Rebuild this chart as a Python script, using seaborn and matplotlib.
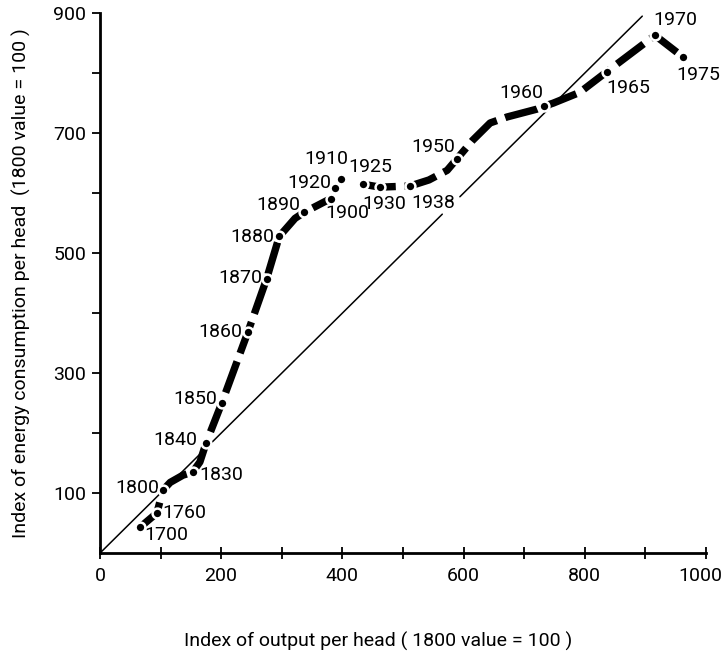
import numpy as np
import pandas as pd
import matplotlib
matplotlib.use("Agg")
import matplotlib.pyplot as plt
import matplotlib.transforms as mtransforms
import seaborn as sns

# path of the curve (year points plus a few bends in between)
path1_x = [66, 94, 104, 116, 137, 153, 165, 175, 201, 244, 275, 296, 322, 337, 381]
path1_y = [43, 67, 105, 118, 130, 135, 152, 183, 250, 368, 457, 528, 558, 568, 591]
path2_x = [434, 462, 512, 543, 573, 589, 615, 644, 672, 721, 733, 748, 792, 836, 916, 962]
path2_y = [615, 610, 612, 622, 638, 657, 688, 717, 727, 740, 745, 750, 768, 802, 863, 827]

years = ["1700", "1760", "1800", "1830", "1840", "1850", "1860", "1870", "1880", "1890",
         "1900", "1910", "1920", "1925", "1930", "1938", "1950", "1960", "1965", "1970", "1975"]
year_x = [66, 94, 104, 153, 175, 201, 244, 275, 296, 337, 381, 398, 388, 434, 462, 512, 589, 733, 836, 916, 962]
year_y = [43, 67, 105, 135, 183, 250, 368, 457, 528, 568, 591, 623, 608, 615, 610, 612, 657, 745, 802, 863, 827]
label_x = [110, 140, 61, 201, 124, 157, 198, 231, 252, 294, 409, 373, 345, 446, 469, 550, 550, 696, 872, 949, 987]
label_y = [30, 67, 108, 130, 188, 257, 368, 458, 527, 580, 567, 657, 617, 643, 582, 583, 677, 767, 775, 888, 797]

# y = x reference line, broken under the 1938 label
diag1 = [0, 565]
diag2 = [594, 895]

sns.set_style("ticks")
plt.rcParams['font.family'] = ['Roboto', 'DejaVu Sans']
for k in ["text.color", "axes.labelcolor", "xtick.color", "ytick.color", "axes.edgecolor"]:
    plt.rcParams[k] = "black"

fig = plt.figure(figsize=(7.24, 6.57), dpi=100)
ax = fig.add_axes([0.138, 0.158, 0.837, 0.822])

sns.lineplot(x=diag1, y=diag1, ax=ax, color="black", lw=1.1, sort=False, estimator=None)
sns.lineplot(x=diag2, y=diag2, ax=ax, color="black", lw=1.1, sort=False, estimator=None)

dash = (0, (4.5, 1.2))
sns.lineplot(x=path1_x, y=path1_y, ax=ax, color="black", lw=5.3, sort=False,
             estimator=None, linestyle=dash, solid_capstyle="butt", dash_capstyle="butt")
sns.lineplot(x=path2_x, y=path2_y, ax=ax, color="black", lw=5.3, sort=False,
             estimator=None, linestyle=dash, solid_capstyle="butt", dash_capstyle="butt")
sns.scatterplot(x=year_x, y=year_y, ax=ax, color="black", s=50,
                edgecolor="white", linewidth=1.8, zorder=5)

for yr, lx, ly in zip(years, label_x, label_y):
    ax.text(lx, ly, yr, ha="center", va="center", fontsize=14)

ax.set_xlim(0, 1000)
ax.set_ylim(0, 900)
ax.set_xticks(np.arange(0, 1001, 100))
ax.set_xticklabels([str(v) if v % 200 == 0 else "" for v in range(0, 1001, 100)])
ax.set_yticks(np.arange(100, 901, 100))
ax.set_yticklabels([str(v) if v % 200 == 100 else "" for v in range(100, 901, 100)])
ax.tick_params(axis="x", direction="inout", length=8, width=1.3, labelsize=14, pad=6)
ax.tick_params(axis="y", direction="out", length=6, width=1.3, labelsize=14, pad=4)
sns.despine(ax=ax)
for s in ["left", "bottom"]:
    ax.spines[s].set_linewidth(2)

# pull the "1000" label in a little so it stays on the canvas
last = ax.get_xticklabels()[-1]
last.set_transform(last.get_transform() + mtransforms.ScaledTranslation(-6 / 100, 0, fig.dpi_scale_trans))

ax.set_xlabel("Index of output per head ( 1800 value = 100 )", fontsize=14)
ax.xaxis.set_label_coords(0.459, -0.145)
ax.set_ylabel("Index of energy consumption per head  (1800 value = 100 )", fontsize=14, labelpad=16)

fig.savefig("out.png", dpi=100)
